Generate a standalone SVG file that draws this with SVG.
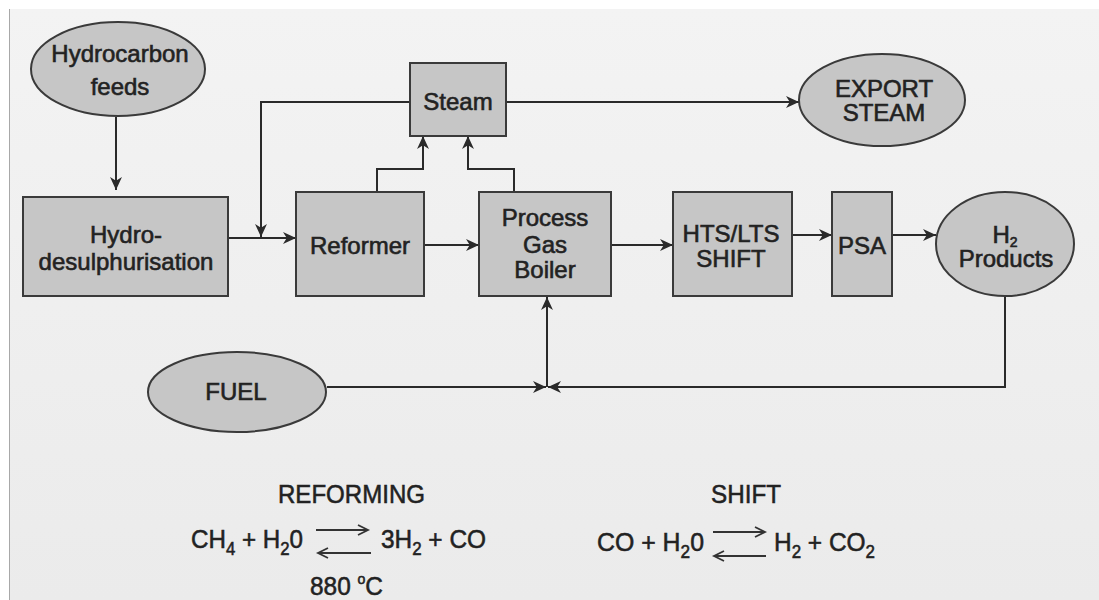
<svg xmlns="http://www.w3.org/2000/svg" width="1099" height="600" viewBox="0 0 1099 600">
  <defs>
    <linearGradient id="bg" x1="0" y1="0" x2="0" y2="1">
      <stop offset="0" stop-color="#f3f3f3"/>
      <stop offset="1" stop-color="#ebebeb"/>
    </linearGradient>
    <marker id="arr" viewBox="0 0 12 12" markerWidth="13" markerHeight="13" refX="12" refY="6" orient="auto" markerUnits="userSpaceOnUse">
      <path d="M0,0.5 L12,6 L0,11.5 L3.5,6 z" fill="#2a2a2a"/>
    </marker>
  </defs>
  <style>
    .node { fill: #c6c6c6; stroke: #3a3a3a; stroke-width: 2; }
    .lbl { font-family: "Liberation Sans", Arial, sans-serif; font-size: 24px; fill: #222; stroke: #222; stroke-width: 0.6; text-anchor: middle; }
    .con { fill: none; stroke: #2a2a2a; stroke-width: 2; }
    .eq { font-family: "Liberation Sans", Arial, sans-serif; font-size: 26px; fill: #222; stroke: #222; stroke-width: 0.55; }
    .eqa { fill: none; stroke: #333; stroke-width: 1.8; }
  </style>

  <rect x="0" y="0" width="1099" height="600" fill="#ffffff"/>
  <rect x="9" y="9" width="1090" height="591" fill="url(#bg)"/>
  <line x1="9.5" y1="9" x2="9.5" y2="600" stroke="#a8a8a8" stroke-width="1"/>

  <g id="connectors">
    <line class="con" x1="116" y1="117" x2="116" y2="190" marker-end="url(#arr)"/>
    <line class="con" x1="228" y1="238" x2="296" y2="238" marker-end="url(#arr)"/>
    <polyline class="con" points="410,102 261,102 261,237" marker-end="url(#arr)"/>
    <polyline class="con" points="377,192 377,169 423,169 423,136" marker-end="url(#arr)"/>
    <polyline class="con" points="514,192 514,169 468,169 468,136" marker-end="url(#arr)"/>
    <line class="con" x1="506" y1="102" x2="799" y2="102" marker-end="url(#arr)"/>
    <line class="con" x1="424" y1="245" x2="479" y2="245" marker-end="url(#arr)"/>
    <line class="con" x1="611" y1="245" x2="673" y2="245" marker-end="url(#arr)"/>
    <line class="con" x1="792" y1="235" x2="832" y2="235" marker-end="url(#arr)"/>
    <line class="con" x1="892" y1="235" x2="936" y2="235" marker-end="url(#arr)"/>
    <polyline class="con" points="1005,296 1005,387 548,387" marker-end="url(#arr)"/>
    <line class="con" x1="327" y1="387" x2="546" y2="387" marker-end="url(#arr)"/>
    <line class="con" x1="547" y1="387" x2="547" y2="297" marker-end="url(#arr)"/>
  </g>

  <g id="hydrocarbon-feeds">
    <ellipse class="node" cx="118" cy="69" rx="87" ry="47"/>
    <text class="lbl" x="120" y="62">Hydrocarbon</text>
    <text class="lbl" x="120" y="95">feeds</text>
  </g>

  <g id="hydro-desulphurisation">
    <rect class="node" x="23" y="197" width="205" height="99"/>
    <text class="lbl" x="126" y="243">Hydro-</text>
    <text class="lbl" x="126" y="270">desulphurisation</text>
  </g>

  <g id="reformer">
    <rect class="node" x="296" y="192" width="128" height="104"/>
    <text class="lbl" x="360" y="254">Reformer</text>
  </g>

  <g id="steam">
    <rect class="node" x="410" y="63" width="96" height="73"/>
    <text class="lbl" x="458" y="110">Steam</text>
  </g>

  <g id="process-gas-boiler">
    <rect class="node" x="479" y="192" width="132" height="104"/>
    <text class="lbl" x="545" y="226">Process</text>
    <text class="lbl" x="545" y="253">Gas</text>
    <text class="lbl" x="545" y="278">Boiler</text>
  </g>

  <g id="export-steam">
    <ellipse class="node" cx="882" cy="100" rx="83" ry="46"/>
    <text class="lbl" x="884" y="97">EXPORT</text>
    <text class="lbl" x="884" y="121">STEAM</text>
  </g>

  <g id="hts-lts-shift">
    <rect class="node" x="673" y="192" width="119" height="104"/>
    <text class="lbl" x="731" y="242">HTS/LTS</text>
    <text class="lbl" x="731" y="267">SHIFT</text>
  </g>

  <g id="psa">
    <rect class="node" x="832" y="192" width="60" height="104"/>
    <text class="lbl" x="862" y="254">PSA</text>
  </g>

  <g id="h2-products">
    <ellipse class="node" cx="1005" cy="244" rx="69" ry="52"/>
    <text class="lbl" x="1005" y="243">H<tspan font-size="14" dy="4">2</tspan></text>
    <text class="lbl" x="1006" y="267">Products</text>
  </g>

  <g id="fuel">
    <ellipse class="node" cx="237" cy="392" rx="89" ry="40"/>
    <text class="lbl" x="236" y="400">FUEL</text>
  </g>

  <g id="reforming-equation">
    <text class="eq" x="278" y="503" textLength="147" lengthAdjust="spacingAndGlyphs">REFORMING</text>
    <text class="eq" x="191" y="548" textLength="112" lengthAdjust="spacingAndGlyphs">CH<tspan font-size="18" dy="7">4</tspan><tspan dy="-7"> + H</tspan><tspan font-size="18" dy="7">2</tspan><tspan dy="-7">0</tspan></text>
    <line class="eqa" x1="316" y1="530" x2="368" y2="530"/>
    <polyline class="eqa" points="358,525 368,530 358,535"/>
    <line class="eqa" x1="318" y1="553" x2="371" y2="553"/>
    <polyline class="eqa" points="328,548 318,553 328,558"/>
    <text class="eq" x="381" y="548" textLength="105" lengthAdjust="spacingAndGlyphs">3H<tspan font-size="18" dy="7">2</tspan><tspan dy="-7"> + CO</tspan></text>
    <text class="eq" x="310" y="595" textLength="73" lengthAdjust="spacingAndGlyphs">880 <tspan font-size="15" dy="-11">o</tspan><tspan dy="11">C</tspan></text>
  </g>

  <g id="shift-equation">
    <text class="eq" x="711" y="503" textLength="70" lengthAdjust="spacingAndGlyphs">SHIFT</text>
    <text class="eq" x="597" y="551" textLength="107" lengthAdjust="spacingAndGlyphs">CO + H<tspan font-size="18" dy="7">2</tspan><tspan dy="-7">0</tspan></text>
    <line class="eqa" x1="713" y1="532" x2="765" y2="532"/>
    <polyline class="eqa" points="755,527 765,532 755,537"/>
    <line class="eqa" x1="714" y1="556" x2="766" y2="556"/>
    <polyline class="eqa" points="724,551 714,556 724,561"/>
    <text class="eq" x="774" y="551" textLength="101" lengthAdjust="spacingAndGlyphs">H<tspan font-size="18" dy="7">2</tspan><tspan dy="-7"> + CO</tspan><tspan font-size="18" dy="7">2</tspan></text>
  </g>
</svg>
